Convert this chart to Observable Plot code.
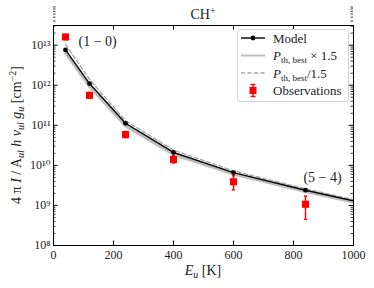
<!DOCTYPE html>
<html><head><meta charset="utf-8">
<script src="https://cdn.jsdelivr.net/npm/d3@7"></script>
<script src="https://cdn.jsdelivr.net/npm/@observablehq/plot@0.6"></script>
<style>body{margin:0;background:#fff} svg{display:block}</style>
</head><body><div id="chart"></div>
<script>
// ---- data ----
const Eu = [40, 120, 240, 400, 600, 840, 1120];
const model = [7.6e12, 1.1e12, 1.12e11, 2.1e10, 6.6e9, 2.4e9, 8.2e8];
const modelDiv = [1.05e13, 1.4e12, 1.3e11, 2.4e10, 7.3e9, 2.6e9, 8.8e8];   // P_th,best / 1.5 (dashed)
const modelMul = [6.3e12, 9.2e11, 9.6e10, 1.85e10, 6.0e9, 2.2e9, 7.6e8];   // P_th,best x 1.5 (solid grey)
const obsEu = [40, 120, 240, 400, 600, 840];
const obsVal = [1.6e13, 5.6e11, 5.9e10, 1.4e10, 3.9e9, 1.07e9];
const obsLo = [1.38e13, 4.8e11, 4.9e10, 1.15e10, 2.45e9, 4.5e8];
const obsHi = [1.85e13, 6.6e11, 7.0e10, 1.75e10, 5.5e9, 1.7e9];
const xTicks = [0, 200, 400, 600, 800, 1000];
const yMajor = [1e8, 1e9, 1e10, 1e11, 1e12, 1e13];
const annotations = [{idx: 0, text: "(1 − 0)"}, {idx: 5, text: "(5 − 4)"}];

// ---- layout ----
const W = 374, H = 288, mL = 53, mR = 21, mT = 25, mB = 43;
const PW = W - mL - mR, PH = H - mT - mB;
const FONT = "'Liberation Serif', 'DejaVu Serif', serif";

const modelRows = Eu.map((e, i) => ({e, v: model[i], hi: modelDiv[i], lo: modelMul[i]}));
const obsRows = obsEu.map((e, i) => ({e, v: obsVal[i], lo: obsLo[i], hi: obsHi[i]}));
const yMinor = [];
yMajor.forEach(m => { for (let k = 2; k <= 9; k++) yMinor.push(m * k); });
const supMap = {"0":"⁰","1":"¹","2":"²","3":"³","4":"⁴","5":"⁵","6":"⁶","7":"⁷","8":"⁸","9":"⁹","-":"⁻"};
const fmtPow = d => "10" + String(Math.round(Math.log10(d))).split("").map(c => supMap[c]).join("");
const cap = {draw(ctx, size) { const w = Math.sqrt(size) / 2; ctx.moveTo(-w, 0); ctx.lineTo(w, 0); }};
const annRows = annotations.map(a => ({e: Eu[a.idx], v: model[a.idx], text: a.text}));

const svg = Plot.plot({
  width: W, height: H,
  marginLeft: mL, marginRight: mR, marginTop: mT, marginBottom: mB,
  style: {fontFamily: FONT, fontSize: "12px", color: "#222", background: "white"},
  x: {domain: [0, 1000], label: null},
  y: {type: "log", domain: [1e8, 3.1e13], label: null},
  marks: [
    Plot.line(modelRows, {x: "e", y: "lo", stroke: "#bdbdbd", strokeWidth: 2.6, clip: true}),
    Plot.line(modelRows, {x: "e", y: "hi", stroke: "#a8a8a8", strokeWidth: 1.4, strokeDasharray: "4,2.5", clip: true}),
    Plot.line(modelRows, {x: "e", y: "v", stroke: "black", strokeWidth: 1.4, clip: true}),
    Plot.dot(modelRows, {x: "e", y: "v", r: 2.4, fill: "black", clip: true}),
    Plot.ruleX(obsRows, {x: "e", y1: "lo", y2: "hi", stroke: "red", strokeWidth: 1.4}),
    Plot.dot(obsRows, {x: "e", y: "lo", symbol: cap, r: 1.8, stroke: "red", strokeWidth: 1.4}),
    Plot.dot(obsRows, {x: "e", y: "hi", symbol: cap, r: 1.8, stroke: "red", strokeWidth: 1.4}),
    Plot.dot(obsRows, {x: "e", y: "v", symbol: "square", r: 4, fill: "red"}),
    Plot.text(annRows.slice(0,1), {x: "e", y: "v", text: "text", dx: 13, dy: -8, textAnchor: "start", fontSize: 14, fill: "#222"}),
    Plot.text(annRows.slice(1), {x: "e", y: "v", text: "text", dx: 17, dy: -13, textAnchor: "middle", fontSize: 14, fill: "#222"}),
    // ticks (inward, all four sides)
    Plot.tickY(yMajor, {y: d => d, insetRight: PW - 4.5, stroke: "black", strokeWidth: 1}),
    Plot.tickY(yMajor, {y: d => d, insetLeft: PW - 4.5, stroke: "black", strokeWidth: 1}),
    Plot.tickY(yMinor, {y: d => d, insetRight: PW - 2.5, stroke: "black", strokeWidth: 0.8}),
    Plot.tickY(yMinor, {y: d => d, insetLeft: PW - 2.5, stroke: "black", strokeWidth: 0.8}),
    Plot.tickX(xTicks, {x: d => d, insetTop: PH - 4.5, stroke: "black", strokeWidth: 1}),
    Plot.tickX(xTicks, {x: d => d, insetBottom: PH - 4.5, stroke: "black", strokeWidth: 1}),
    Plot.axisY({ticks: yMajor, tickSize: 0, tickPadding: 3, tickFormat: fmtPow, label: null, fontSize: 12}),
    Plot.axisX({ticks: xTicks, tickSize: 0, tickPadding: 5, tickFormat: d => String(d), label: null, fontSize: 12}),
    Plot.frame({stroke: "black", strokeWidth: 1})
  ]
});

const s = d3.select(svg);
const txtCol = "#222";
// title
const t = s.append("text").attr("x", mL + PW / 2).attr("y", 19).attr("text-anchor", "middle")
  .attr("font-family", FONT).attr("font-size", 14).attr("fill", txtCol);
t.append("tspan").text("CH");
t.append("tspan").attr("dy", -5).attr("font-size", 10).text("+");
// x label
const xl = s.append("text").attr("x", mL + PW / 2).attr("y", 275).attr("text-anchor", "middle")
  .attr("font-family", FONT).attr("font-size", 14).attr("fill", txtCol);
xl.append("tspan").attr("font-style", "italic").text("E");
xl.append("tspan").attr("font-style", "italic").attr("font-size", 10).attr("dy", 3).text("u");
xl.append("tspan").attr("dy", -3).text(" [K]");
// y label
const yl = s.append("text").attr("transform", `translate(21,${mT + PH / 2}) rotate(-90)`).attr("text-anchor", "middle")
  .attr("font-family", FONT).attr("font-size", 14).attr("fill", txtCol);
const part = (txt, o = {}) => {
  const sp = yl.append("tspan").text(txt);
  if (o.it) sp.attr("font-style", "italic");
  if (o.fs) sp.attr("font-size", o.fs);
  if (o.dy) sp.attr("dy", o.dy);
};
part("4 π ");
part("I", {it: 1});
part(" / A");
part("ul", {it: 1, fs: 10, dy: 3});
part(" ", {dy: -3});
part("h", {it: 1});
part(" ");
part("ν", {it: 1});
part("ul", {it: 1, fs: 10, dy: 3});
part(" ", {dy: -3});
part("g", {it: 1});
part("u", {it: 1, fs: 10, dy: 3});
part(" [cm", {dy: -3});
part("−2", {fs: 10, dy: -5});
part("]", {dy: 5});

// legend
const lg = s.append("g").attr("font-family", FONT).attr("font-size", 13).attr("fill", txtCol).attr("text-anchor", "start");
lg.append("rect").attr("x", 237.5).attr("y", 29.5).attr("width", 111).attr("height", 72).attr("rx", 3)
  .attr("fill", "white").attr("fill-opacity", 0.85).attr("stroke", "#d0d0d0").attr("stroke-width", 1);
const rowsY = [38, 55.5, 73, 90.5];
const x0 = 241, x1 = 265, tx = 273;
lg.append("line").attr("x1", x0).attr("x2", x1).attr("y1", rowsY[0]).attr("y2", rowsY[0]).attr("stroke", "black").attr("stroke-width", 1.4);
lg.append("circle").attr("cx", (x0 + x1) / 2).attr("cy", rowsY[0]).attr("r", 2.4).attr("fill", "black");
lg.append("line").attr("x1", x0).attr("x2", x1).attr("y1", rowsY[1]).attr("y2", rowsY[1]).attr("stroke", "#bdbdbd").attr("stroke-width", 2);
lg.append("line").attr("x1", x0).attr("x2", x1).attr("y1", rowsY[2]).attr("y2", rowsY[2]).attr("stroke", "#a8a8a8").attr("stroke-width", 1.4).attr("stroke-dasharray", "4,2.5");
const mx = (x0 + x1) / 2;
lg.append("line").attr("x1", mx).attr("x2", mx).attr("y1", rowsY[3] - 6).attr("y2", rowsY[3] + 6).attr("stroke", "red").attr("stroke-width", 1.4);
lg.append("line").attr("x1", mx - 2.5).attr("x2", mx + 2.5).attr("y1", rowsY[3] - 6).attr("y2", rowsY[3] - 6).attr("stroke", "red").attr("stroke-width", 1.4);
lg.append("line").attr("x1", mx - 2.5).attr("x2", mx + 2.5).attr("y1", rowsY[3] + 6).attr("y2", rowsY[3] + 6).attr("stroke", "red").attr("stroke-width", 1.4);
lg.append("rect").attr("x", mx - 3.5).attr("y", rowsY[3] - 3.5).attr("width", 7).attr("height", 7).attr("fill", "red");
const lt = (i) => lg.append("text").attr("x", tx).attr("y", rowsY[i]).attr("dy", "0.35em").attr("text-anchor", "start");
lt(0).text("Model");
{
  const e = lt(1);
  e.append("tspan").attr("font-style", "italic").text("P");
  e.append("tspan").attr("font-size", 9).attr("dy", 3).text("th, best");
  e.append("tspan").attr("dy", -3).text(" × 1.5");
}
{
  const e = lt(2);
  e.append("tspan").attr("font-style", "italic").text("P");
  e.append("tspan").attr("font-size", 9).attr("dy", 3).text("th, best");
  e.append("tspan").attr("dy", -3).text("/1.5");
}
lt(3).text("Observations");

document.getElementById("chart").appendChild(svg);
</script></body></html>
